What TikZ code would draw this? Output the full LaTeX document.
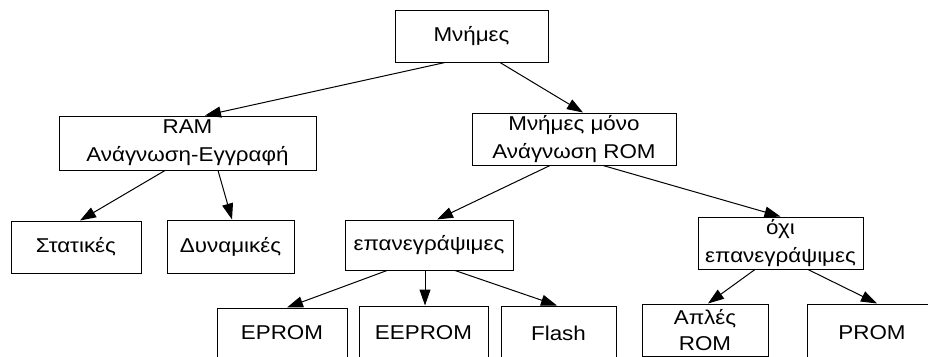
\documentclass[tikz,border=0pt]{standalone}
\usepackage{fontspec}
\setmainfont{Liberation Sans}[FakeStretch=1.12]
\usetikzlibrary{arrows.meta, positioning}

\begin{document}
\begin{tikzpicture}[x=1pt, y=-1pt]
		\tikzstyle{Node} = [rectangle, draw=black, line width=1pt, align=center, inner sep=0pt, font=\fontsize{20}{28}\selectfont]
		\tikzstyle{arrow} = [line width=1pt, ->, >={Triangle[length=16pt, width=11pt]}]
		
		\useasboundingbox (0,0) rectangle (928,356);
		
		\node (mem) [Node, minimum width=153pt, minimum height=52pt] at (471.5,36) {Μνήμες};
		
		\node (ram) [Node, minimum width=257pt, minimum height=54pt] at (187.5,143) {RAM\\Ανάγνωση-Εγγραφή};
		\node (rom) [Node, minimum width=204pt, minimum height=52pt] at (574,139) {Μνήμες μόνο\\Ανάγνωση ROM};
		
		\node (stat) [Node, minimum width=130pt, minimum height=52pt] at (76,247) {Στατικές};
		\node (dyn) [Node, minimum width=127pt, minimum height=53pt] at (230.5,246.5) {Δυναμικές};
		\node (rw) [Node, minimum width=168pt, minimum height=50pt] at (429,245) {επανεγράψιμες};
		\node (nrw) [Node, minimum width=165pt, minimum height=52pt] at (780.5,243) {όχι\\επανεγράψιμες};
		
		\node (eprom) [Node, minimum width=130pt, minimum height=50pt] at (282,333) {EPROM};
		\node (eeprom) [Node, minimum width=129pt, minimum height=54pt] at (423.5,333) {EEPROM};
		\node (flash) [Node, minimum width=115pt, minimum height=54pt] at (558.5,333) {Flash};
		\node (simple) [Node, minimum width=126pt, minimum height=52pt, font=\fontsize{20}{26}\selectfont] at (705,330) {Απλές\\ROM};
		\node (prom) [Node, minimum width=130pt, minimum height=58pt] at (872,333) {PROM};
		
		\draw [arrow] ([xshift=-26.5pt]mem.south) -- ([xshift=17.5pt]ram.north);
		\draw [arrow] ([xshift=28.5pt]mem.south) -- ([xshift=9pt]rom.north);
		
		\draw [arrow] ([xshift=-22.5pt]ram.south) -- ([xshift=4pt]stat.north);
		\draw [arrow] ([xshift=30.5pt]ram.south) -- ([xshift=1.5pt]dyn.north);
		
		\draw [arrow] ([xshift=-24pt]rom.south) -- ([xshift=8pt]rw.north);
		\draw [arrow] ([xshift=29pt]rom.south) -- (nrw.north);
		
		\draw [arrow] ([xshift=-42pt]rw.south) -- ([xshift=5pt]eprom.north);
		\draw [arrow] ([xshift=-4pt]rw.south) -- ([xshift=1.5pt]eeprom.north);
		\draw [arrow] ([xshift=26pt]rw.south) -- ([xshift=-1.5pt]flash.north);
		
		\draw [arrow] ([xshift=-25.5pt]nrw.south) -- ([xshift=3pt]simple.north);
		\draw [arrow] ([xshift=27.5pt]nrw.south) -- ([xshift=5pt]prom.north);
		\end{tikzpicture}
\end{document}
